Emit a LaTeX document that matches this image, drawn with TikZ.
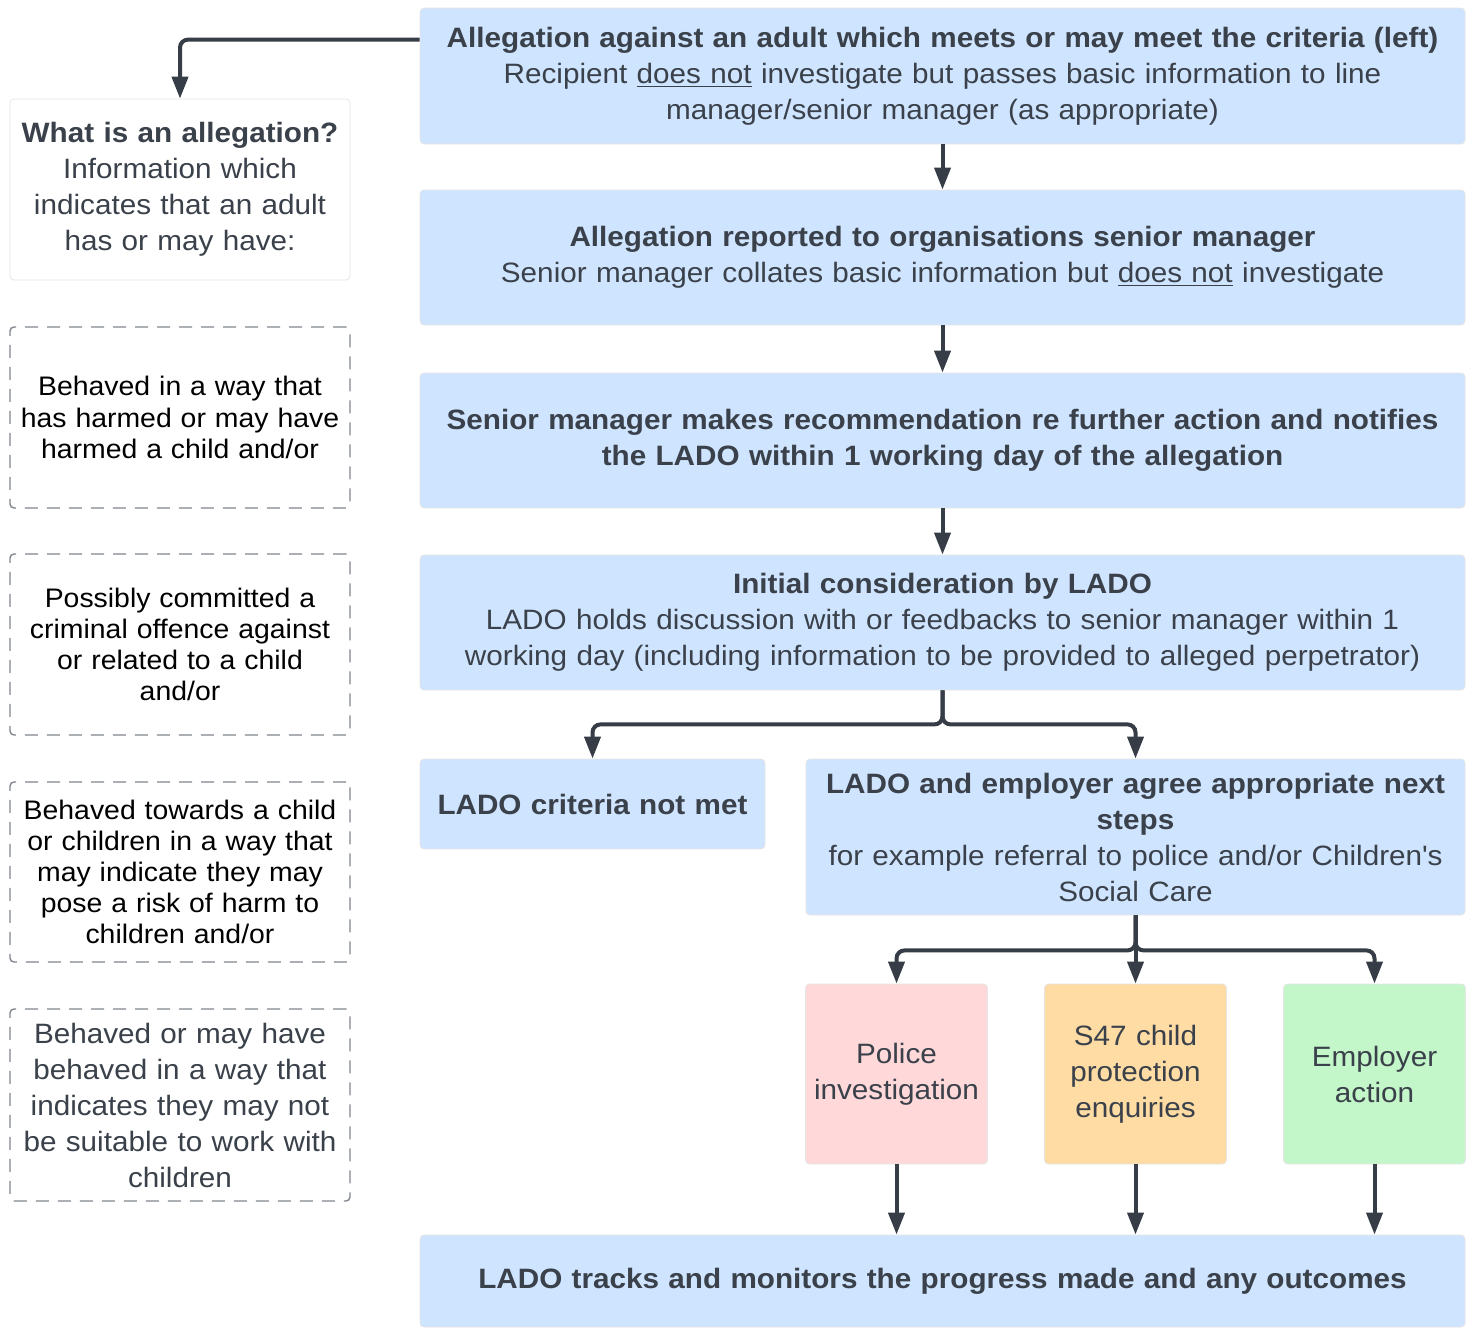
\documentclass[tikz,border=0pt]{standalone}
\usepackage{fontspec}
\setmainfont[FakeStretch=1.06]{Liberation Sans}
\usetikzlibrary{arrows.meta}
\definecolor{txt}{HTML}{3A414A}
\definecolor{linec}{HTML}{363D47}
\definecolor{bluef}{HTML}{CFE4FF}
\definecolor{pinkf}{HTML}{FFD9D9}
\definecolor{orangef}{HTML}{FEDCA4}
\definecolor{greenf}{HTML}{C3F6C8}
\definecolor{dashc}{HTML}{80868D}
\tikzset{
  box/.style={rectangle, rounded corners=2pt, draw=black!10, line width=0.4pt, align=center, inner sep=1pt, text=txt,
    font=\fontsize{14}{18}\selectfont},
  bluebox/.style={box, fill=bluef},
  dashbox/.style={box, draw=dashc, line width=0.7pt, dash pattern=on 6.5pt off 4.5pt, fill=white},
  smallf/.style={font=\fontsize{13.4}{15.6}\selectfont},
  arr/.style={draw=linec, line width=2pt, rounded corners=4pt, -{Triangle[length=11pt,width=8pt]}},
}
\begin{document}
\begin{tikzpicture}[x=0.5pt,y=-0.5pt]
\useasboundingbox (0,0) rectangle (1473,1333);
% right column
\node[bluebox, minimum width=522.5pt, minimum height=68pt, text width=520pt] (n1) at (942.5,76)
  {\textbf{Allegation against an adult which meets or may meet the criteria (left)}\\
   Recipient \underline{does not} investigate but passes basic information to line\\
   manager/senior manager (as appropriate)};
\node[bluebox, minimum width=522.5pt, minimum height=67.5pt, text width=520pt] (n2) at (942.5,257.5)
  {\textbf{Allegation reported to organisations senior manager}\\
   Senior manager collates basic information but \underline{does not} investigate};
\node[bluebox, minimum width=522.5pt, minimum height=67.5pt, text width=520pt] (n3) at (942.5,440.5)
  {\textbf{Senior manager makes recommendation re further action and notifies}\\
   \textbf{the LADO within 1 working day of the allegation}};
\node[bluebox, minimum width=522.5pt, minimum height=67.5pt, text width=520pt] (n4) at (942.5,622.5)
  {\textbf{Initial consideration by LADO}\\
   LADO holds discussion with or feedbacks to senior manager within 1\\
   working day (including information to be provided to alleged perpetrator)};
\node[bluebox, minimum width=172.5pt, minimum height=45pt, text width=170pt] (n5) at (592.5,804)
  {\textbf{LADO criteria not met}};
\node[bluebox, minimum width=329.5pt, minimum height=78pt, text width=327pt] (n6) at (1135.5,837)
  {\textbf{LADO and employer agree appropriate next}\\
   \textbf{steps}\\
   for example referral to police and/or Children\textquotesingle s\\
   Social Care};
\node[box, fill=pinkf, minimum width=90.5pt, minimum height=90pt, text width=89pt] (p1) at (896.5,1074)
  {Police\\investigation};
\node[box, fill=orangef, minimum width=90.5pt, minimum height=90pt, text width=89pt] (p2) at (1135.5,1074)
  {S47 child\\protection\\enquiries};
\node[box, fill=greenf, minimum width=90.5pt, minimum height=90pt, text width=89pt] (p3) at (1374.5,1074)
  {Employer\\action};
\node[bluebox, minimum width=522.5pt, minimum height=46pt, text width=520pt] (n7) at (942.5,1281)
  {\textbf{LADO tracks and monitors the progress made and any outcomes}};
% left column
\node[box, fill=white, minimum width=169pt, minimum height=90.5pt, text width=168pt] (w) at (180,189.5)
  {\textbf{What is an allegation?}\\
   Information which\\indicates that an adult\\has or may have:};
\node[dashbox, smallf, text=black, minimum width=169pt, minimum height=90.5pt, text width=168pt] (a) at (180,417.5)
  {Behaved in a way that\\has harmed or may have\\harmed a child and/or};
\node[dashbox, smallf, text=black, minimum width=169pt, minimum height=90.5pt, text width=168pt] (b) at (180,644.5)
  {Possibly committed a\\criminal offence against\\or related to a child\\and/or};
\node[dashbox, smallf, text=black, minimum width=169pt, minimum height=90pt, text width=168pt] (c) at (180,872)
  {Behaved towards a child\\or children in a way that\\may indicate they may\\pose a risk of harm to\\children and/or};
\node[dashbox, minimum width=169pt, minimum height=96pt, text width=168pt] (d) at (180,1105)
  {Behaved or may have\\behaved in a way that\\indicates they may not\\be suitable to work with\\children};
% connectors
\draw[arr] ([yshift=-16pt]n1.north west) -| (w.north);
\draw[arr] (n1) -- (n2);
\draw[arr] (n2) -- (n3);
\draw[arr] (n3) -- (n4);
\coordinate (j1) at ([yshift=-17pt]n4.south);
\draw[arr] (n4.south) -- (j1) -| (n5.north);
\draw[arr] (n4.south) -- (j1) -| (n6.north);
\coordinate (j2) at ([yshift=-17.5pt]n6.south);
\draw[arr] (n6.south) -- (j2) -| (p1.north);
\draw[arr] (n6.south) -- (p2.north);
\draw[arr] (n6.south) -- (j2) -| (p3.north);
\draw[arr] (p1.south) -- (p1.south |- n7.north);
\draw[arr] (p2.south) -- (p2.south |- n7.north);
\draw[arr] (p3.south) -- (p3.south |- n7.north);
\end{tikzpicture}
\end{document}
